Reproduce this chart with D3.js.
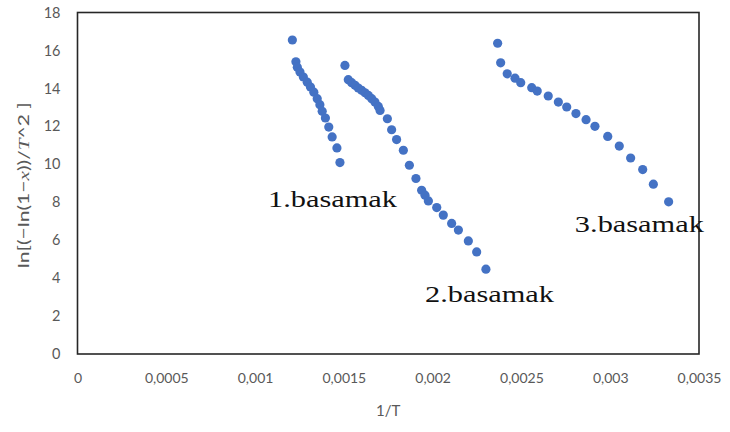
<!DOCTYPE html>
<html>
<head>
<meta charset="utf-8">
<script src="https://cdn.jsdelivr.net/npm/d3@7/dist/d3.min.js"></script>
<style>
  html, body { margin: 0; padding: 0; background: #fff; }
  svg { display: block; }
</style>
</head>
<body>
<svg id="chart" width="730" height="432"></svg>
<script>
// Coats–Redfern style plot: ln[(-ln(1-x))/T^2] against 1/T for three decomposition steps
const step1X = [0.001210, 0.001230, 0.001238, 0.001253, 0.001272, 0.001294, 0.001312, 0.001331,
                0.001350, 0.001365, 0.001378, 0.001396, 0.001415, 0.001434, 0.001461, 0.001478];
const step1Y = [16.55, 15.40, 15.12, 14.86, 14.60, 14.33, 14.07, 13.80,
                13.46, 13.14, 12.79, 12.44, 11.96, 11.44, 10.86, 10.09];

const step2X = [0.001506, 0.001525, 0.001544, 0.001563, 0.001581, 0.001600, 0.001619, 0.001638,
                0.001657, 0.001675, 0.001694, 0.001704, 0.001745, 0.001769, 0.001797, 0.001835,
                0.001869, 0.001906, 0.001938, 0.001957, 0.001976, 0.002023, 0.002060, 0.002107,
                0.002145, 0.002201, 0.002248, 0.002300];
const step2Y = [15.21, 14.46, 14.30, 14.16, 14.02, 13.90, 13.77, 13.63,
                13.46, 13.28, 13.05, 12.84, 12.40, 11.82, 11.30, 10.74,
                9.95, 9.25, 8.63, 8.37, 8.07, 7.72, 7.32, 6.88,
                6.53, 5.96, 5.38, 4.47];

const step3X = [0.002366, 0.002383, 0.002420, 0.002464, 0.002496, 0.002558, 0.002589, 0.002651,
                0.002708, 0.002755, 0.002807, 0.002864, 0.002914, 0.002986, 0.003051, 0.003115,
                0.003183, 0.003243, 0.003329];
const step3Y = [16.38, 15.35, 14.77, 14.54, 14.30, 14.04, 13.86, 13.60,
                13.28, 13.02, 12.67, 12.35, 12.00, 11.47, 10.96, 10.33,
                9.72, 8.95, 8.02];

const stepLabels = ["1.basamak", "2.basamak", "3.basamak"];
// where each step label sits, in data units (x = 1/T, y = ordinate of baseline)
const stepLabelX = [0.001073, 0.001957, 0.002801];
const stepLabelY = [7.73, 2.74, 6.42];

const xTicks = [0, 0.0005, 0.001, 0.0015, 0.002, 0.0025, 0.003, 0.0035];
const xTickLabels = ["0", "0,0005", "0,001", "0,0015", "0,002", "0,0025", "0,003", "0,0035"];
const yTicks = [0, 2, 4, 6, 8, 10, 12, 14, 16, 18];

const svg = d3.select("#chart");
const plot = { left: 77.5, right: 699, top: 12.5, bottom: 354 };

const x = d3.scaleLinear().domain([0, 0.0035]).range([plot.left, plot.right]);
const y = d3.scaleLinear().domain([0, 18]).range([plot.bottom, plot.top]);

const tickFont = "Lato, 'Open Sans', sans-serif";

// x axis labels
const xAxis = d3.axisBottom(x)
  .tickValues(xTicks)
  .tickSize(0)
  .tickPadding(0)
  .tickFormat((d, i) => xTickLabels[i]);
const gx = svg.append("g").attr("transform", `translate(0,${plot.bottom + 19})`).call(xAxis);
gx.select(".domain").remove();
gx.selectAll("text")
  .attr("fill", "#595959")
  .attr("font-family", tickFont)
  .attr("font-size", 14)
  .attr("dy", "0.71em");

// y axis labels
const yAxis = d3.axisLeft(y)
  .tickValues(yTicks)
  .tickSize(0)
  .tickPadding(0)
  .tickFormat(d3.format("d"));
const gy = svg.append("g").attr("transform", `translate(${plot.left - 17},0)`).call(yAxis);
gy.select(".domain").remove();
gy.selectAll("text")
  .attr("fill", "#595959")
  .attr("font-family", tickFont)
  .attr("font-size", 14.5);

// plot frame
svg.append("rect")
  .attr("x", plot.left)
  .attr("y", plot.top)
  .attr("width", plot.right - plot.left)
  .attr("height", plot.bottom - plot.top)
  .attr("fill", "none")
  .attr("stroke", "#262626")
  .attr("stroke-width", 1.6);

// scatter points
const series = [
  d3.zip(step1X, step1Y),
  d3.zip(step2X, step2Y),
  d3.zip(step3X, step3Y)
];
svg.append("g").selectAll("g")
  .data(series)
  .join("g")
  .selectAll("circle")
  .data(d => d)
  .join("circle")
  .attr("cx", d => x(d[0]))
  .attr("cy", d => y(d[1]))
  .attr("r", 4.6)
  .attr("fill", "#4472C4");

// step annotations
svg.append("g").selectAll("text")
  .data(stepLabels)
  .join("text")
  .attr("x", (d, i) => x(stepLabelX[i]))
  .attr("y", (d, i) => y(stepLabelY[i]))
  .attr("font-family", "'Liberation Serif', 'Times New Roman', serif")
  .attr("font-size", 24)
  .attr("fill", "#111")
  .attr("textLength", 129)
  .attr("lengthAdjust", "spacingAndGlyphs")
  .text(d => d);

// axis titles
svg.append("text")
  .attr("x", (plot.left + plot.right) / 2)
  .attr("y", 416)
  .attr("text-anchor", "middle")
  .attr("font-family", tickFont)
  .attr("font-size", 15)
  .attr("fill", "#595959")
  .text("1/T");

const yTitle = svg.append("text")
  .attr("transform", `translate(29,${(plot.top + plot.bottom) / 2 + 2}) rotate(-90)`)
  .attr("text-anchor", "middle")
  .attr("font-family", tickFont)
  .attr("font-size", 15.5)
  .attr("fill", "#595959")
  .attr("textLength", 166)
  .attr("lengthAdjust", "spacingAndGlyphs");
yTitle.append("tspan").text("ln[(−ln(1−");
yTitle.append("tspan").attr("font-style", "italic").attr("font-family", "'Liberation Serif', serif").text("x");
yTitle.append("tspan").text("))/");
yTitle.append("tspan").attr("font-style", "italic").attr("font-family", "'Liberation Serif', serif").text("T");
yTitle.append("tspan").text("^2 ]");
</script>
</body>
</html>
